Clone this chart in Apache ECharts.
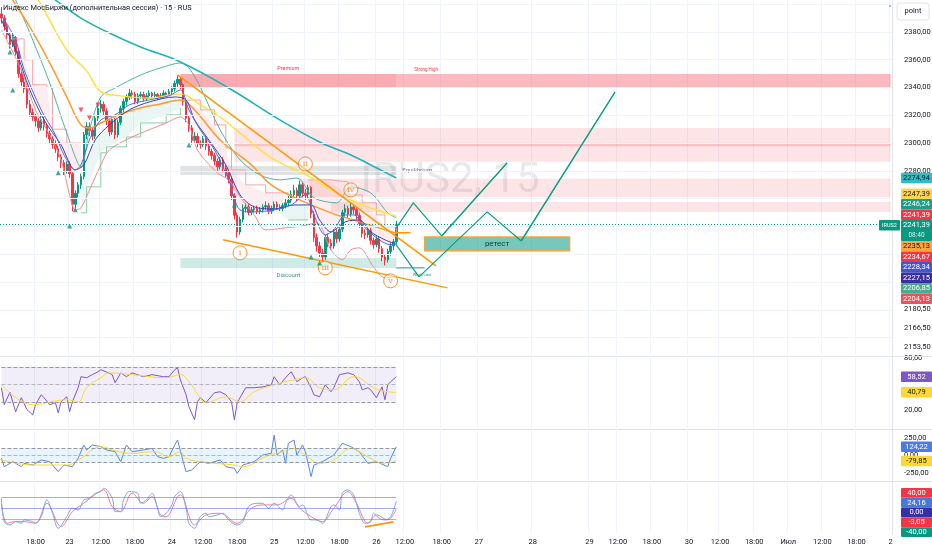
<!DOCTYPE html>
<html><head><meta charset="utf-8">
<script src="https://cdn.jsdelivr.net/npm/echarts@6/dist/echarts.min.js"></script>
<style>html,body{margin:0;padding:0;background:#fff}#c{width:932px;height:550px}</style>
</head><body><div id="c"></div>
<script>
const FONT = "Roboto, 'Liberation Sans', sans-serif";
// ---------- axis ticks ----------
const N_SLOTS = 314;
const tickSlots = [12,24,35,47,60,71,83,96,107,119,132,142,155,168,187,207,217,229,242,253,265,277,289,301,313];
const tickLabels = ['18:00','23','12:00','18:00','24','12:00','18:00','25','12:00','18:00','26','12:00','18:00','27','28','29','12:00','18:00','30','12:00','18:00','Июл','12:00','18:00','2'];
const priceTicks = [2380,2360,2340,2320,2300,2280];
const priceTicksLow = [2180.5,2166.5,2153.5];
const priceGrid = [2160,2180,2200,2220,2240,2260,2280,2300,2320,2340,2360,2380,2400];
// ---------- candles (30-min) ----------
const opens = [2393,2390,2384,2378,2371,2376,2366,2350,2344,2339,2328,2322,2319,2316,2311,2317,2312,2307,2303,2299,2296,2290,2286,2280,2285,2278,2256,2264,2270,2276,2306,2312,2309,2305,2318,2325,2328,2323,2316,2308,2317,2306,2315,2325,2330,2333,2336,2335,2330,2334,2335,2332,2334,2336,2334,2335,2333,2334,2336,2335,2337,2339,2343,2346,2342,2330,2318,2311,2302,2305,2300,2299,2303,2298,2294,2291,2287,2283,2288,2282,2278,2274,2262,2248,2236,2245,2253,2254,2250,2252,2253,2251,2252,2254,2255,2251,2253,2256,2254,2253,2255,2257,2259,2263,2266,2262,2270,2264,2263,2268,2249,2232,2226,2221,2218,2232,2228,2226,2236,2231,2238,2250,2253,2249,2254,2252,2248,2242,2235,2234,2237,2230,2227,2231,2224,2218,2216,2222,2226,2229];
const closes = [2390,2384,2378,2371,2376,2366,2350,2344,2339,2328,2322,2319,2316,2311,2317,2312,2307,2303,2299,2296,2290,2286,2280,2285,2278,2256,2264,2270,2276,2306,2312,2309,2305,2318,2325,2328,2323,2316,2308,2317,2306,2315,2325,2330,2333,2336,2335,2330,2334,2335,2332,2334,2336,2334,2335,2333,2334,2336,2335,2337,2339,2343,2346,2342,2330,2318,2311,2302,2305,2300,2299,2303,2298,2294,2291,2287,2283,2288,2282,2278,2274,2262,2248,2236,2245,2253,2254,2250,2252,2253,2251,2252,2254,2255,2251,2253,2256,2254,2253,2255,2257,2259,2263,2266,2262,2270,2264,2263,2268,2249,2232,2226,2221,2218,2232,2228,2226,2236,2231,2238,2250,2253,2249,2254,2252,2248,2242,2235,2234,2237,2230,2227,2231,2224,2218,2216,2222,2226,2229,2241.39];
const lows = [2386,2381,2375,2368,2369,2363,2347,2341,2336,2325,2319,2316,2312,2308,2309,2309,2304,2300,2296,2293,2287,2282,2277,2278,2275,2251,2253,2261,2267,2274,2303,2305,2302,2303,2316,2322,2320,2313,2305,2306,2303,2304,2313,2322,2327,2331,2332,2328,2328,2332,2330,2331,2332,2332,2333,2331,2332,2333,2333,2334,2335,2337,2340,2339,2327,2315,2308,2299,2300,2297,2296,2297,2295,2291,2288,2284,2280,2281,2279,2275,2271,2259,2245,2232,2234,2243,2250,2248,2248,2250,2249,2249,2250,2252,2249,2249,2251,2252,2251,2251,2253,2255,2257,2260,2258,2260,2261,2259,2260,2246,2229,2222,2218,2214,2216,2225,2223,2224,2228,2229,2236,2247,2246,2247,2249,2245,2239,2232,2231,2232,2227,2224,2225,2221,2215,2212,2214,2219,2223,2227];
const highs = [2398,2392,2386,2380,2379,2377,2368,2353,2347,2341,2331,2325,2321,2318,2320,2319,2314,2309,2305,2302,2298,2292,2288,2287,2287,2279,2266,2272,2278,2308,2315,2315,2311,2320,2328,2331,2330,2325,2318,2319,2318,2317,2327,2332,2335,2339,2338,2337,2336,2337,2337,2336,2338,2337,2337,2336,2336,2338,2337,2339,2341,2345,2349,2348,2343,2332,2320,2313,2308,2307,2302,2305,2305,2300,2296,2293,2289,2290,2290,2284,2280,2276,2264,2250,2247,2256,2257,2256,2254,2255,2255,2254,2256,2258,2257,2255,2258,2258,2256,2257,2260,2262,2266,2270,2268,2273,2272,2267,2270,2269,2251,2235,2229,2224,2234,2235,2231,2238,2238,2240,2252,2256,2255,2257,2256,2254,2250,2244,2238,2239,2239,2232,2233,2233,2226,2220,2224,2228,2231,2244];
const lastPrice = 2241.39;
// ---------- overlay lines [slot, price] ----------
const ema200 = [[14,2411.6],[19,2403],[28,2390],[38,2379.3],[49,2369.2],[63,2358.4],[80,2339.7],[98,2316.7],[112,2300.8],[123,2291.5],[130,2284.3],[139,2274.94]];
const ema100 = [[1,2414],[4,2403],[10,2383.6],[17,2357.7],[23,2333.2],[28,2313.1],[31,2310.9],[35,2314.5],[42,2321],[49,2325.3],[56,2328.2],[63,2331.1],[68,2323.9],[77,2302.3],[88,2284.3],[95,2269.9],[105,2259.1],[116,2249.8],[126,2243.3],[139,2235.13]];
const ema50 = [[10,2410],[13,2403],[23,2367],[30,2352],[35,2337],[42,2334],[52,2332.5],[63,2335.4],[70,2327.5],[77,2318.8],[86,2303.7],[95,2289.3],[102,2282.1],[108,2276.4],[116,2266.3],[123,2259.1],[132,2251.9],[139,2247.39]];
const emaFast = [[0,2392.2],[5,2374.2],[8,2352.7],[14,2323.9],[19,2305.9],[22,2291.5],[26,2280.7],[28,2284.3],[31,2302.3],[35,2316.7],[40,2320.3],[45,2327.5],[52,2331.1],[59,2334],[63,2338.3],[66,2323.9],[70,2309.5],[75,2295.1],[80,2273.5],[84,2251.9],[89,2250.5],[96,2251.9],[102,2255.5],[107,2262.7],[110,2248.3],[114,2233.9],[117,2237.5],[121,2248.3],[124,2248.3],[128,2239],[133,2230.4],[137,2226.8],[139,2228.34]];
const emaSlow = [[0,2388.6],[5,2367],[10,2338.3],[15,2316.7],[21,2298.7],[26,2280.7],[29,2284.3],[33,2302.3],[38,2313.1],[45,2323.9],[52,2329.6],[61,2333.2],[65,2331.1],[68,2316.7],[73,2302.3],[79,2284.3],[84,2262.7],[89,2254.1],[96,2252.6],[103,2255.5],[109,2255.5],[112,2244.7],[116,2236.1],[121,2243.3],[126,2244.7],[130,2236.1],[135,2230.4],[139,2227.15]];
const bandUpper = [[2,2417],[5,2403],[10,2379.3],[17,2343.3],[23,2307.3],[28,2282.9],[31,2309.5],[35,2333.2],[40,2339.7],[49,2349],[56,2354.1],[63,2357.7],[66,2354.1],[70,2340.4],[77,2309.5],[84,2287.9],[91,2277.1],[98,2273.5],[104,2274.9],[110,2260.6],[118,2257],[123,2268.5],[130,2264.2],[136,2249.8],[139,2246.24]];
const bandLower = [[0,2381.4],[7,2352.7],[12,2323.9],[17,2305.9],[21,2287.9],[24,2262.7],[26,2251.9],[28,2253.4],[31,2266.3],[35,2284.3],[38,2295.1],[46,2304.4],[58,2314.5],[63,2318.8],[66,2313.1],[69,2295.1],[76,2278.6],[80,2273.5],[84,2261.3],[89,2248.3],[93,2237.5],[100,2239],[106,2240.4],[111,2242.6],[116,2223.2],[120,2216],[123,2223.2],[126,2224.6],[131,2210.9],[135,2203],[139,2204.13]];
const stDown1 = [[3,2375],[8,2360],[11,2342],[16,2340],[18,2310],[23,2300],[28,2300]];
const stUp1 = [[28,2249.8],[30,2268.5],[35,2293],[37,2297.3],[44,2304.4],[49,2314.5],[58,2320.3],[63,2325.3]];
const stDown2 = [[64,2331],[70,2323.9],[75,2313.1],[79,2296.5],[81,2280.7],[86,2269.9],[93,2264.2],[101,2262.7]];
const stUp2 = [[101,2244.7],[108,2244.7]];
const stDown3 = [[108,2273.5],[116,2272.1],[122,2262.7],[127,2257],[132,2248.3],[135,2239.7],[139,2234.67]];
// ---------- drawings ----------
const trendUpper = [[62,2349.1],[153,2211.6]];
const trendLower = [[78,2230.4],[157,2195.8]];
const trendFlat = [[139,2235.4],[144,2235.4]];
const path1 = [[139,2239],[145,2257],[155,2233.2],[178,2285.8]];
const path2 = [[139,2226.8],[147,2203.7],[171,2250.5],[183,2229.6],[216,2336.8]];
const weakLowLine = [[139,2210.2],[149,2210.2]];
const retest = [[149,2232.5],[200,2222.5]];
const premiumA = [[63,2349.8],[139,2340.4]];
const premiumB = [[139,2349.8],[313,2340.4]];
const zoneA = [[82,2310.9],[313,2286.5]];
const zoneAmid = [[82,2299.5],[313,2297.8]];
const zoneB = [[105,2274.3],[313,2261.3]];
const zoneC = [[116,2257.7],[313,2250.5]];
const equil = [[63,2283.6],[139,2277.1]];
const discount = [[63,2217.4],[139,2210.2]];
const waveNames = ['i','ii','iii','iv','v'];
const waveSlots = [84,107,114,123,137];
const wavePrices = [2221,2285,2210.2,2266.3,2200.9];
const buySignals = [[3,2365.6],[4,2338.3],[20,2278.6],[24,2240.4],[26,2252],[66,2298.7],[82,2255.5],[109,2218],[112,2213.8]];
const sellSignals = [[28,2323.9],[31,2318.1],[34,2327.5]];
// ---------- RSI ----------
const rsi = [[0,46],[1,26.6],[3,41],[5,18.6],[7,34.6],[9,21],[11,15],[12,26.6],[14,38],[15,34.6],[17,26.6],[19,29],[20,17.4],[21,30],[23,35.7],[24,18.6],[25,30],[27,46],[28,58.6],[30,57.4],[32,61],[34,64.3],[35,66.6],[37,64],[39,61],[40,51.7],[42,63],[44,58.6],[46,63],[50,58.6],[53,61],[57,58.6],[59,58.6],[61,66.6],[62,68.9],[63,55],[65,38],[66,24.3],[68,9.4],[69,30],[70,34.6],[72,29],[75,40.3],[77,41.4],[79,38],[81,30],[82,9.4],[83,29],[86,46],[89,46],[92,47],[95,49.4],[96,58.6],[98,49.4],[100,57.4],[102,64.3],[104,52.9],[106,57.4],[107,58.6],[109,46],[110,38],[112,35.7],[114,49.4],[116,41.4],[117,46],[119,61],[122,63],[124,61],[126,52.9],[127,43.7],[129,46],[130,43.7],[132,34.6],[134,47],[135,32.3],[136,49.4],[137,52.9],[139,58.52]];
const rsiMA = [[0,49.4],[11,26.6],[23,32.3],[27,30],[30,46],[35,57.4],[38,63],[46,61],[58,57.4],[63,61],[66,53],[70,34.6],[72,29],[79,35.7],[84,30],[89,41.4],[96,49.4],[103,55.1],[107,57.4],[112,46],[117,43.7],[124,58.6],[126,57.4],[131,46],[136,41.4],[139,40.79]];
const rsiLevels = [70,50,30];
// ---------- CCI ----------
const cci = [[0,-40],[1,-160],[4,-88],[7,-160],[8,-112],[11,-136],[14,-64],[17,-88],[20,-231],[22,-136],[25,-160],[27,-40],[29,150],[30,79],[32,150],[35,126],[37,79],[40,55],[42,-88],[44,150],[46,55],[50,79],[53,102],[55,-17],[57,-40],[59,-17],[61,150],[62,221],[64,-88],[65,-231],[67,-207],[70,-88],[73,-112],[77,-64],[79,-160],[82,-183],[83,-255],[85,-136],[89,-88],[92,7],[95,31],[96,293],[97,7],[99,79],[100,-112],[101,174],[103,221],[104,7],[106,150],[107,55],[109,-302],[110,-136],[113,-88],[117,7],[120,174],[123,126],[126,55],[129,-112],[132,-88],[136,-160],[137,-40],[139,124.22]];
const cciMA = [[0,-64],[11,-136],[23,-136],[28,-40],[35,126],[41,55],[46,31],[54,55],[59,-17],[63,55],[65,-40],[70,-88],[75,-112],[82,-136],[85,-160],[93,-17],[99,55],[103,102],[107,7],[112,-112],[117,-64],[123,102],[126,55],[131,-64],[134,-112],[139,-79.85]];
const cciLevels = [100,0,-100];
// ---------- oscillator ----------
const oscFastSlots = [0,1,3,5,7,8,11,12,14,16,18,20,23,25,27,29,31,33,35,36,39,40,42,43,45,48,49,51,53,55,56,58,60,61,63,65,66,68,70,72,73,76,78,80,83,85,87,90,92,94,96,99,100,102,105,106,109,111,113,116,117,119,120,122,124,126,128,130,131,133,135,137,139];
const oscFastVals = [35,-49,-61,-49,-55,-43,-49,-55,-31,29,-19,-73,-31,-1,-7,29,35,53,59,71,35,-13,-13,29,59,53,17,29,53,-1,-31,-19,11,41,59,-1,-55,-73,-31,-19,-31,-25,-19,-43,-61,-49,5,17,17,-1,17,-7,17,47,5,11,-43,-43,-55,5,11,-7,53,65,47,-19,-55,-49,-19,-37,-43,-31,24.16];
const oscSlowSlots = [0,2,5,8,12,16,21,25,29,32,36,39,42,46,50,53,56,58,62,63,68,72,77,83,88,92,97,102,105,110,113,117,122,125,129,132,136,139];
const oscSlowVals = [17,-55,-49,-49,-55,17,-67,-13,17,41,65,5,-13,53,17,41,-25,-31,41,47,-61,-25,-19,-55,-1,11,11,35,-1,-37,-49,-1,59,17,-55,-25,-43,-3.05];
const oscDivergence = [[128,-68],[138,-50]];
const oscLevels = [40,0,-40];
// ---------- value tags ----------
const mainTagVals = [2274.94,2247.39,2246.24,2241.39,2241.39,2235.13,2234.67,2228.34,2227.15,2206.85,2204.13];
const mainTagBg = ['#2BBFC6','#FFD54F','#1E9E86','#F23645','#089981','#FFA33A','#F23645','#4154D8','#3B2FA0','#48AC8C','#F0505B'];
const mainTagFg = ['#131722','#131722','#fff','#fff','#fff','#131722','#fff','#fff','#fff','#fff','#fff'];
const rsiTagVals = [58.52,40.79], rsiTagBg = ['#7E57C2','#FDD835'], rsiTagFg = ['#fff','#131722'];
const cciTagVals = [124.22,-79.85], cciTagBg = ['#4C7BE3','#FDD835'], cciTagFg = ['#fff','#131722'];
const oscTagVals = [40,24.16,0,-3.05,-40], oscTagBg = ['#F23645','#4A78D8','#3431A6','#F23645','#089981'], oscTagFg = ['#fff','#fff','#fff','#fff','#fff'];

// =====================================================================
const cats = Array.from({length:N_SLOTS},(_,i)=>String(i));
const tickMap = {}; tickSlots.forEach((s,i)=>tickMap[s]=tickLabels[i]);
const isTick = i => tickMap[i] !== undefined;
const fmt2 = v => Number(v).toFixed(2).replace('.',',');
const zip = (a,b) => a.map((s,i)=>[s,b[i]]);
const sub = (arr,a,b) => arr.filter(p=>p[0]>=a && p[0]<=b);

function makeX(k, show){
  return {type:'category', gridIndex:k, data:cats, boundaryGap:true,
    axisLine:{show:false}, axisTick:{show:false},
    axisLabel:{show:show, interval:(i)=>isTick(i), formatter:(v,i)=>tickMap[i]||'', fontSize:7.5, color:'#131722', margin:5, fontFamily:FONT},
    splitLine:{show:true, interval:(i)=>isTick(i), lineStyle:{color:'#F0F3FA', width:1}}};
}
function makeY(k, min, max, labels){
  return {type:'value', gridIndex:k, position:'right', min:min, max:max,
    axisLine:{show:false}, axisTick:{show:false}, splitLine:{show:false},
    axisLabel:{show:labels.length>0, customValues:labels, formatter:fmt2, fontSize:7.5, color:'#131722', margin:12, fontFamily:FONT}};
}
function L(data, color, width, extra){
  return Object.assign({type:'line', xAxisIndex:0, yAxisIndex:0, data:data, showSymbol:false, symbol:'none', silent:true, z:4,
    lineStyle:{color:color, width:width}, itemStyle:{color:color}}, extra||{});
}
const PINK='rgba(242,54,69,0.09)', GREEN='rgba(8,153,129,0.09)';
const fillBands = [
  {top:stDown1, bottom:sub(emaFast,3,28), color:PINK},
  {top:sub(emaSlow,28,63), bottom:stUp1, color:GREEN},
  {top:stDown2, bottom:sub(emaFast,64,101), color:PINK},
  {top:sub(emaSlow,96,109), bottom:stUp2, color:GREEN},
  {top:stDown3, bottom:sub(emaFast,108,139), color:PINK}
];
const ms = {silent:true, symbol:'none', label:{show:false}};
const zoneData = [
  [{coord:premiumA[0], itemStyle:{color:'rgba(242,54,69,0.42)'}, label:{show:true, position:'top', distance:2, formatter:'Premium', color:'#F23645', fontSize:5.5, fontFamily:FONT}}, {coord:premiumA[1]}],
  [{coord:premiumB[0], itemStyle:{color:'rgba(242,54,69,0.34)'}, label:{show:true, position:[18,-7], formatter:'Strong High', color:'#F23645', fontSize:4.5, fontFamily:FONT}}, {coord:premiumB[1]}],
  [{coord:zoneA[0], itemStyle:{color:'rgba(242,54,69,0.13)'}}, {coord:zoneA[1]}],
  [{coord:zoneAmid[0], itemStyle:{color:'rgba(242,54,69,0.2)'}}, {coord:zoneAmid[1]}],
  [{coord:zoneB[0], itemStyle:{color:'rgba(242,54,69,0.13)'}}, {coord:zoneB[1]}],
  [{coord:zoneC[0], itemStyle:{color:'rgba(242,54,69,0.13)'}}, {coord:zoneC[1]}],
  [{coord:equil[0], itemStyle:{color:'rgba(120,123,134,0.22)'}, label:{show:true, position:'right', distance:6, formatter:'Equilibrium', color:'#787B86', fontSize:6, fontFamily:FONT}}, {coord:equil[1]}],
  [{coord:discount[0], itemStyle:{color:'rgba(8,153,129,0.2)'}, label:{show:true, position:'bottom', distance:5, formatter:'Discount', color:'#3E8E82', fontSize:6, fontFamily:FONT}}, {coord:discount[1]}]
];
function arrowPath(pts){
  const n = pts.length;
  return L(pts, '#0E9F84', 1.2, {z:6, markLine:{silent:true, symbol:['none','arrow'], symbolSize:[0,7], label:{show:false},
    lineStyle:{color:'#0E9F84', width:1.2, type:'solid'}, data:[[{coord:pts[n-2]},{coord:pts[n-1]}]]}});
}
function levelLines(levels, colors, types){
  return levels.map((v,i)=>[{coord:[0,v], lineStyle:{color:colors[i], width:1, type:types}},{coord:[139,v]}]);
}

const series = [
  {type:'line', xAxisIndex:0, yAxisIndex:0, data:[], silent:true, z:1,
    markLine:Object.assign({}, ms, {lineStyle:{color:'#F0F3FA', width:1, type:'solid'}, data:priceGrid.map(v=>({yAxis:v}))}),
    markArea:{silent:true, label:{show:false}, data:zoneData}},
  {type:'custom', xAxisIndex:0, yAxisIndex:0, silent:true, z:2,
    data:fillBands.map(b=>[b.top[0][0], b.top[0][1]]), encode:{x:0, y:1},
    renderItem:(params, api)=>{
      const b = fillBands[params.dataIndex];
      const pts = b.top.map(p=>api.coord(p)).concat(b.bottom.slice().reverse().map(p=>api.coord(p)));
      return {type:'polygon', shape:{points:pts}, style:{fill:b.color}};
    }},
  {type:'candlestick', xAxisIndex:0, yAxisIndex:0, z:3, silent:true, barWidth:2,
    data:opens.map((o,i)=>[o, closes[i], lows[i], highs[i]]),
    itemStyle:{color:'#089981', color0:'#F23645', borderColor:'#089981', borderColor0:'#F23645', borderWidth:1},
    markLine:Object.assign({}, ms, {lineStyle:{color:'#089981', width:1, type:[1,2]}, data:[{yAxis:lastPrice}]})},
  L(stDown1,'#F5A3A8',1,{step:'end'}), L(stUp1,'#86CFA6',1,{step:'end'}), L(stDown2,'#F5A3A8',1,{step:'end'}),
  L(stUp2,'#86CFA6',1,{step:'end'}), L(stDown3,'#F5A3A8',1,{step:'end'}),
  L(bandUpper,'#4DB6A0',1,{smooth:0.3}), L(bandLower,'#F28B91',1,{smooth:0.3}),
  L(ema200,'#1FB3B8',1.6,{smooth:0.4}), L(ema100,'#FF9A2E',1.5,{smooth:0.4}), L(ema50,'#FFE03D',1.5,{smooth:0.4}),
  L(emaSlow,'#3A3FAE',1,{smooth:0.3}), L(emaFast,'#4F6BE8',1,{smooth:0.3}),
  L(trendUpper,'#FF9800',1.5,{z:5}), L(trendLower,'#FF9800',1.5,{z:5}), L(trendFlat,'#FF9800',1.5,{z:5}),
  {type:'line', xAxisIndex:0, yAxisIndex:0, data:[], silent:true, z:5,
    markArea:{silent:true, data:[[{coord:retest[0], itemStyle:{color:'rgba(8,153,129,0.55)', borderColor:'#F7A43A', borderWidth:1.5},
      label:{show:true, position:'inside', formatter:'ретест', color:'#0F3D33', fontSize:8, fontFamily:FONT}}, {coord:retest[1]}]]}},
  arrowPath(path1), arrowPath(path2),
  L(weakLowLine,'#0E9F84',1,{z:6, markPoint:{silent:true, symbol:'circle', symbolSize:0,
    data:[{coord:[148,2205], label:{show:true, position:'inside', formatter:'Weak Low', fontSize:4, color:'#089981', fontFamily:FONT}}]}}),
  {type:'scatter', xAxisIndex:0, yAxisIndex:0, z:7, silent:true, symbol:'circle', symbolSize:14,
    data:zip(waveSlots, wavePrices),
    itemStyle:{color:'rgba(255,255,255,0.55)', borderColor:'#F57C00', borderWidth:1},
    label:{show:true, position:'inside', formatter:p=>waveNames[p.dataIndex], color:'#F57C00', fontSize:8, fontFamily:'DejaVu Serif'}},
  {type:'scatter', xAxisIndex:0, yAxisIndex:0, z:7, silent:true, symbol:'triangle', symbolSize:5, data:buySignals, itemStyle:{color:'#089981'}},
  {type:'scatter', xAxisIndex:0, yAxisIndex:0, z:7, silent:true, symbol:'triangle', symbolRotate:180, symbolSize:5, data:sellSignals, itemStyle:{color:'#F23645'}},
  // RSI
  L(rsi,'#7E57C2',1,{xAxisIndex:1, yAxisIndex:2,
    markArea:{silent:true, data:[[{coord:[0,70], itemStyle:{color:'rgba(126,87,194,0.1)'}},{coord:[139,30]}]]},
    markLine:Object.assign({}, ms, {data:levelLines(rsiLevels,['#9598A1','#B2B5BE','#9598A1'],'dashed')})}),
  L(rsiMA,'#FDD835',1,{xAxisIndex:1, yAxisIndex:2, smooth:0.4}),
  // CCI
  L(cci,'#5C85E8',1,{xAxisIndex:2, yAxisIndex:3,
    markArea:{silent:true, data:[[{coord:[0,100], itemStyle:{color:'rgba(33,150,243,0.1)'}},{coord:[139,-100]}]]},
    markLine:Object.assign({}, ms, {data:levelLines(cciLevels,['#9598A1','#B2B5BE','#9598A1'],'dashed')})}),
  L(cciMA,'#FDD835',1,{xAxisIndex:2, yAxisIndex:3, smooth:0.4}),
  // oscillator
  L(zip(oscSlowSlots, oscSlowVals),'#F57F86',1,{xAxisIndex:3, yAxisIndex:4, smooth:0.35,
    markLine:Object.assign({}, ms, {data:levelLines(oscLevels,['rgba(242,54,69,0.55)','rgba(76,93,220,0.5)','rgba(8,153,129,0.5)'],'solid')})}),
  L(zip(oscFastSlots, oscFastVals),'#7FA5F5',1,{xAxisIndex:3, yAxisIndex:4, smooth:0.35}),
  L(oscDivergence,'#FF9800',1.6,{xAxisIndex:3, yAxisIndex:4})
];

const option = {
  animation:false, backgroundColor:'#ffffff',
  grid:[
    {left:0, right:40, top:0, height:355, outerBoundsMode:'none'},
    {left:0, right:40, top:358, height:70, outerBoundsMode:'none'},
    {left:0, right:40, top:431, height:49, outerBoundsMode:'none'},
    {left:0, right:40, top:483, height:50, outerBoundsMode:'none'}],
  xAxis:[makeX(0,false), makeX(1,false), makeX(2,false), makeX(3,true)],
  yAxis:[makeY(0,2147.5,2403,priceTicks), makeY(0,2147.5,2403,priceTicksLow), makeY(1,0,80,[80,20]), makeY(2,-350,350,[250,0,-250]), makeY(3,-90,90,[])],
  series:series
};
const chart = echarts.init(document.getElementById('c'), null, {renderer:'canvas'});
chart.setOption(option);

// ---------- tags (positioned from the axes, stacked like the price scale) ----------
function tagGraphics(vals, bgs, fgs, axisIdx, h, minTop, subIdx){
  const items = vals.map((v,i)=>({v:v, i:i, y:chart.convertToPixel({yAxisIndex:axisIdx}, v), h:(i===subIdx?2*h:h)}));
  items.sort((a,b)=>(a.y-b.y) || (a.i-b.i));
  let cl = items.map(it=>({items:[it], lo:it.y, hi:it.y, h:it.h}));
  const topOf = c => Math.max((c.lo+c.hi)/2 - c.h/2, minTop);
  let changed = true;
  while(changed){
    changed = false;
    for(let k=cl.length-2;k>=0;k--){
      const a=cl[k], b=cl[k+1];
      if(topOf(a)+a.h > topOf(b)+0.01){
        cl.splice(k,2,{items:a.items.concat(b.items), lo:Math.min(a.lo,b.lo), hi:Math.max(a.hi,b.hi), h:a.h+b.h});
        changed = true; break;
      }
    }
  }
  const out = [];
  cl.forEach(c=>{
    let t = topOf(c);
    c.items.forEach(it=>{
      out.push({type:'rect', z:50, shape:{x:901, y:t, width:31, height:it.h, r:1}, style:{fill:bgs[it.i]}});
      out.push({type:'text', z:51, x:916.5, y:t+h/2, style:{text:fmt2(it.v), fill:fgs[it.i], fontSize:7.5, fontFamily:FONT, align:'center', verticalAlign:'middle', textAlign:'center', textVerticalAlign:'middle'}});
      if(it.i===subIdx){
        out.push({type:'text', z:51, x:916.5, y:t+h*1.5, style:{text:'08:40', fill:'rgba(255,255,255,0.85)', fontSize:6.5, fontFamily:FONT, align:'center', verticalAlign:'middle', textAlign:'center', textVerticalAlign:'middle'}});
        out.push({type:'rect', z:50, shape:{x:879, y:t, width:21, height:h, r:1}, style:{fill:'#089981'}});
        out.push({type:'text', z:51, x:889.5, y:t+h/2, style:{text:'IRUS2', fill:'#fff', fontSize:5.5, fontFamily:FONT, align:'center', verticalAlign:'middle', textAlign:'center', textVerticalAlign:'middle'}});
      }
      t += it.h;
    });
  });
  return out;
}
const sepStyle = {stroke:'#E0E3EB', lineWidth:1};
const graphics = [
  {type:'text', z:-1, x:450, y:181, style:{text:'IRUS2, 15', fontSize:42, fill:'rgba(120,123,134,0.17)', fontFamily:FONT, align:'center', verticalAlign:'middle', textAlign:'center', textVerticalAlign:'middle'}},
  {type:'text', z:100, x:3, y:5, style:{text:'Индекс МосБиржи (дополнительная сессия) · 15 · RUS', fontSize:7.4, fill:'#131722', fontFamily:FONT}},
  {type:'line', z:40, shape:{x1:0,y1:356.5,x2:932,y2:356.5}, style:sepStyle},
  {type:'line', z:40, shape:{x1:0,y1:429.5,x2:932,y2:429.5}, style:sepStyle},
  {type:'line', z:40, shape:{x1:0,y1:481.5,x2:932,y2:481.5}, style:sepStyle},
  {type:'line', z:40, shape:{x1:892.5,y1:0,x2:892.5,y2:535}, style:sepStyle},
  {type:'rect', z:40, shape:{x:897, y:3, width:32, height:17, r:3}, style:{fill:'#fff', stroke:'#E0E3EB', lineWidth:1}},
  {type:'text', z:41, x:913, y:11.5, style:{text:'point', fontSize:7.5, fill:'#131722', fontFamily:FONT, align:'center', verticalAlign:'middle', textAlign:'center', textVerticalAlign:'middle'}},
  {type:'circle', z:41, shape:{cx:890, cy:6, r:0.9}, style:{fill:'#9598A1'}}
].concat(
  tagGraphics(mainTagVals, mainTagBg, mainTagFg, 0, 10.5, 5, 4),
  tagGraphics(rsiTagVals, rsiTagBg, rsiTagFg, 2, 10.5, 363, -1),
  tagGraphics(cciTagVals, cciTagBg, cciTagFg, 3, 10.5, 436, -1),
  tagGraphics(oscTagVals, oscTagBg, oscTagFg, 4, 9.8, 488, -1)
);
chart.setOption({graphic:graphics});
</script></body></html>
